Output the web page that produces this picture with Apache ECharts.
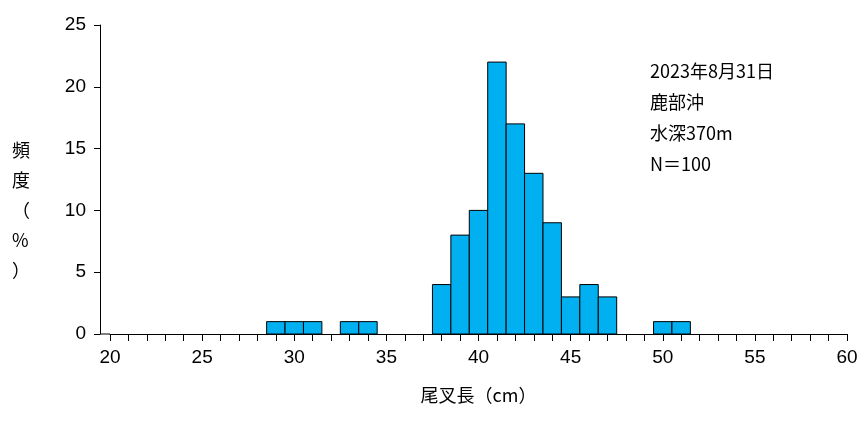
<!DOCTYPE html>
<html><head><meta charset="utf-8">
<script src="https://cdn.jsdelivr.net/npm/echarts@6/dist/echarts.min.js"></script>
<style>html,body{margin:0;padding:0;background:#fff}#c{width:865px;height:423px}</style>
</head><body><div id="c"></div>
<script>
const lengths = [29, 30, 31, 33, 34, 38, 39, 40, 41, 42, 43, 44, 45, 46, 47, 50, 51];
const freq    = [1, 1, 1, 1, 1, 4, 8, 10, 22, 17, 13, 9, 3, 4, 3, 1, 1];
const notes = ['2023年8月31日', '鹿部沖', '水深370m', 'N＝100'];

const chart = echarts.init(document.getElementById('c'));
const font = '"Noto Sans CJK JP", sans-serif';
chart.setOption({
  animation: false,
  grid: {left: 110, right: 18, top: 25, bottom: 89},
  xAxis: {
    type: 'value', min: 20, max: 60, interval: 5,
    axisLine: {lineStyle: {color: '#000'}},
    axisTick: {length: 7, lineStyle: {color: '#000'}},
    minorTick: {show: true, splitNumber: 5, length: 7, lineStyle: {color: '#000'}},
    splitLine: {show: false},
    axisLabel: {color: '#000', fontSize: 19, fontFamily: 'Arial, sans-serif', margin: 14},
    name: '尾叉長（cm）', nameLocation: 'middle', nameGap: 52,
    nameTextStyle: {color: '#000', fontSize: 18, fontFamily: font}
  },
  yAxis: {
    type: 'value', min: 0, max: 25, interval: 5, offset: 10,
    axisLine: {show: true, lineStyle: {color: '#000'}},
    axisTick: {show: true, length: 6, lineStyle: {color: '#000'}},
    splitLine: {show: false},
    axisLabel: {color: '#000', fontSize: 19, fontFamily: 'Arial, sans-serif', margin: 14}
  },
  graphic: [
    {type: 'line', shape: {x1: 100, y1: 334, x2: 110, y2: 334}, style: {stroke: '#000', lineWidth: 1}},
    {type: 'text', left: 12, top: 135, style: {text: '頻\n度\n（\n%\n）', fill: '#000', fontSize: 18, fontFamily: font, lineHeight: 30, align: 'center'}},
    {type: 'text', left: 650, top: 56, style: {text: notes.join('\n'), fill: '#000', fontSize: 18, fontFamily: font, lineHeight: 31}}
  ],
  series: [{
    type: 'custom',
    data: lengths.map((x, i) => [x, freq[i]]),
    renderItem: function (params, api) {
      const p0 = api.coord([api.value(0) - 0.5, api.value(1)]);
      const p1 = api.coord([api.value(0) + 0.5, 0]);
      return {type: 'rect', shape: {x: p0[0], y: p0[1], width: p1[0] - p0[0], height: p1[1] - p0[1]},
        style: {fill: '#00B0F0', stroke: '#000', lineWidth: 1}};
    }
  }]
});
</script></body></html>
